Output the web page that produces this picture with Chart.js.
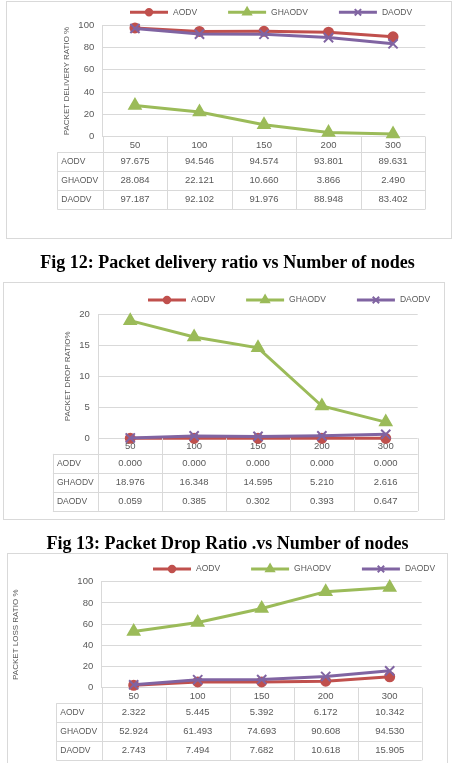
<!DOCTYPE html>
<html>
<head>
<meta charset="utf-8">
<script src="https://cdn.jsdelivr.net/npm/chart.js@4/dist/chart.umd.min.js"></script>
<style>
  body { margin: 0; background: #fff; width: 455px; height: 763px; overflow: hidden; position: relative; }
  .wrap { position: absolute; outline: 1px solid #d9d9d9; outline-offset: -1px; }
  .cap { position: absolute; left: 0; width: 455px; text-align: center; font: bold 18px "Liberation Serif", "Times New Roman", serif; color: #000; line-height: 22px; }
</style>
</head>
<body>
<div class="wrap" style="left:6px; top:1px; width:446px; height:238px;"><canvas id="pdrChart"></canvas></div>
<div class="cap" style="top:251px;">Fig 12: Packet delivery ratio vs Number of nodes</div>
<div class="wrap" style="left:3px; top:282px; width:442px; height:238px;"><canvas id="dropChart"></canvas></div>
<div class="cap" style="top:532px;">Fig 13: Packet Drop Ratio .vs Number of nodes</div>
<div class="wrap" style="left:7px; top:553px; width:441px; height:215px;"><canvas id="lossChart"></canvas></div>

<script>
// Data
const nodes = ['50', '100', '150', '200', '300'];
const protocols = ['AODV', 'GHAODV', 'DAODV'];

const pdrAodv = [97.675, 94.546, 94.574, 93.801, 89.631];
const pdrGhaodv = [28.084, 22.121, 10.660, 3.866, 2.490];
const pdrDaodv = [97.187, 92.102, 91.976, 88.948, 83.402];

const dropAodv = [0.000, 0.000, 0.000, 0.000, 0.000];
const dropGhaodv = [18.976, 16.348, 14.595, 5.210, 2.616];
const dropDaodv = [0.059, 0.385, 0.302, 0.393, 0.647];

const lossAodv = [2.322, 5.445, 5.392, 6.172, 10.342];
const lossGhaodv = [52.924, 61.493, 74.693, 90.608, 94.530];
const lossDaodv = [2.743, 7.494, 7.682, 10.618, 15.905];

const pdrTicks = [0, 20, 40, 60, 80, 100];
const dropTicks = [0, 5, 10, 15, 20];
const lossTicks = [0, 20, 40, 60, 80, 100];

const FONT = '"Liberation Sans", Arial, sans-serif';
const GREY = '#595959';
const LINE = '#d9d9d9';
const colors = ['#c0504d', '#9bbb59', '#8064a2'];
const markers = ['circle', 'triangle', 'crossRot'];
const markerSize = [4.5, 6.5, 6.5];
const legendSize = [3.2, 4.5, 4.5];

// Excel style legend: short line with the marker in the middle
const lineLegend = {
    id: 'lineLegend',
    afterDraw(chart, args, opts) {
        const ctx = chart.ctx;
        let x = opts.x;
        const y = opts.y;
        ctx.save();
        ctx.font = '8.5px ' + FONT;
        ctx.textBaseline = 'middle';
        chart.data.datasets.forEach(function (ds, i) {
            ctx.strokeStyle = ds.borderColor;
            ctx.fillStyle = ds.borderColor;
            ctx.lineWidth = 3;
            ctx.beginPath();
            ctx.moveTo(x, y);
            ctx.lineTo(x + 38, y);
            ctx.stroke();
            ctx.lineWidth = 2;
            Chart.helpers.drawPoint(ctx, { pointStyle: ds.pointStyle, radius: legendSize[i], borderWidth: 2, rotation: 0 }, x + 19, y);
            ctx.fillStyle = GREY;
            ctx.fillText(ds.label, x + 43, y);
            x += 43 + ctx.measureText(ds.label).width + 31;
        });
        ctx.restore();
    }
};

// data table under the x axis, columns taken from the x scale
const dataTable = {
    id: 'dataTable',
    afterDraw(chart, args, opts) {
        const ctx = chart.ctx;
        const xs = chart.scales.x;
        const n = chart.data.labels.length;
        const w = (xs.right - xs.left) / n;
        const head = xs.bottom;
        const rowH = opts.rowHeight;
        const sets = chart.data.datasets;
        const bottom = head + sets.length * rowH;
        const labelLeft = xs.left - opts.labelWidth;
        ctx.save();
        ctx.strokeStyle = LINE;
        ctx.lineWidth = 1;
        ctx.beginPath();
        for (let i = 0; i <= n; i++) {
            const px = Math.round(xs.getPixelForValue(i) - w / 2) + 0.5;
            ctx.moveTo(px, xs.top);
            ctx.lineTo(px, bottom);
        }
        ctx.moveTo(Math.round(labelLeft) + 0.5, head);
        ctx.lineTo(Math.round(labelLeft) + 0.5, bottom);
        for (let r = 0; r <= sets.length; r++) {
            const py = Math.round(head + r * rowH) + 0.5;
            ctx.moveTo(labelLeft, py);
            ctx.lineTo(xs.right, py);
        }
        ctx.stroke();
        ctx.fillStyle = GREY;
        ctx.textBaseline = 'middle';
        sets.forEach(function (ds, r) {
            const cy = head + r * rowH + rowH / 2;
            ctx.font = '8.5px ' + FONT;
            ctx.textAlign = 'left';
            ctx.fillText(ds.label, labelLeft + 4, cy);
            ctx.font = '9.5px ' + FONT;
            ctx.textAlign = 'center';
            ds.data.forEach(function (v, i) {
                ctx.fillText(v.toFixed(3), xs.getPixelForValue(i), cy);
            });
        });
        ctx.restore();
    }
};

function makeDatasets(series) {
    return series.map(function (data, i) {
        return {
            label: protocols[i],
            data: data,
            borderColor: colors[i],
            backgroundColor: colors[i],
            borderWidth: 3,
            pointStyle: markers[i],
            pointRadius: markerSize[i],
            pointBorderWidth: 2,
            tension: 0,
            clip: false,
            order: 3 - i
        };
    });
}

function makeChart(id, series, ticks, title, lay) {
    const ctx = document.getElementById(id).getContext('2d');
    return new Chart(ctx, {
        type: 'line',
        data: { labels: nodes, datasets: makeDatasets(series) },
        options: {
            responsive: true,
            maintainAspectRatio: false,
            animation: false,
            events: [],
            layout: { padding: lay.padding },
            plugins: {
                legend: { display: false },
                tooltip: { enabled: false },
                lineLegend: { x: lay.legendX, y: lay.legendY },
                dataTable: { rowHeight: 19, labelWidth: 45.4 }
            },
            scales: {
                x: {
                    offset: true,
                    grid: { display: false, drawTicks: false },
                    border: { display: false },
                    ticks: { color: GREY, font: { family: FONT, size: 9.5 }, padding: 2.5, maxRotation: 0 },
                    afterFit: function (s) { s.height = 15.6; }
                },
                y: {
                    min: ticks[0],
                    max: ticks[ticks.length - 1],
                    ticks: { stepSize: ticks[1] - ticks[0], color: GREY, font: { family: FONT, size: 9.5 }, padding: 8.5 },
                    grid: { color: LINE, drawTicks: false },
                    border: { display: true, color: LINE },
                    title: { display: true, text: title, color: GREY, font: { family: FONT, size: 8 }, padding: 0 },
                    afterFit: function (s) { s.width = lay.yWidth; }
                }
            }
        },
        plugins: [lineLegend, dataTable]
    });
}

document.addEventListener('DOMContentLoaded', function () {
    makeChart('pdrChart', [pdrAodv, pdrGhaodv, pdrDaodv], pdrTicks, 'PACKET DELIVERY RATIO %', {
        padding: { left: 55.6, top: 24.3, right: 26.7, bottom: 86.7 },
        yWidth: 41.1, legendX: 124, legendY: 11.3
    });
    makeChart('dropChart', [dropAodv, dropGhaodv, dropDaodv], dropTicks, 'PACKET DROP RATIO%', {
        padding: { left: 60.3, top: 32.3, right: 27.3, bottom: 66.1 },
        yWidth: 35, legendX: 145, legendY: 18
    });
    makeChart('lossChart', [lossAodv, lossGhaodv, lossDaodv], lossTicks, 'PACKET LOSS RATIO %', {
        padding: { left: 4.3, top: 28.7, right: 26.3, bottom: 64.7 },
        yWidth: 90.4, legendX: 146, legendY: 16
    });
});
</script>
</body>
</html>
